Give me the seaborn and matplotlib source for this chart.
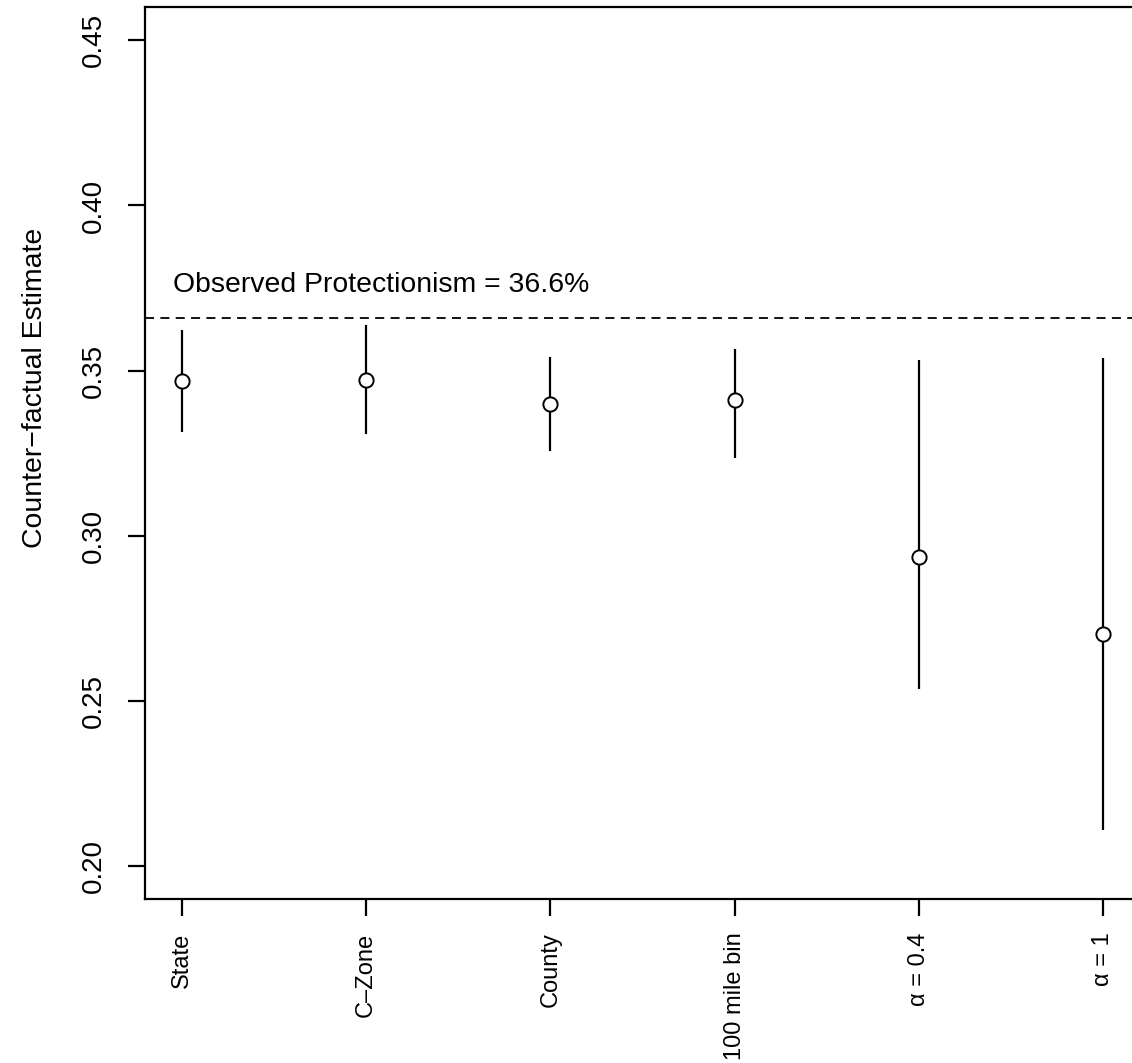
import matplotlib
matplotlib.use("Agg")
import matplotlib.pyplot as plt
import seaborn as sns
import pandas as pd

categories = ["State", "C\u2013Zone", "County", "100 mile bin", "\u03b1 = 0.4", "\u03b1 = 1"]
estimates = [0.3468, 0.3473, 0.3400, 0.3412, 0.2936, 0.2703]
lower = [0.3313, 0.3308, 0.3255, 0.3236, 0.2536, 0.2109]
upper = [0.3624, 0.3638, 0.3542, 0.3564, 0.3533, 0.3539]
observed = 0.366
y_ticks = [0.20, 0.25, 0.30, 0.35, 0.40, 0.45]
y_tick_labels = ["0.20", "0.25", "0.30", "0.35", "0.40", "0.45"]
annotation = "Observed Protectionism = 36.6%"
y_label = "Counter\u2212factual Estimate"

sns.set_theme(style="white")
plt.rcParams["font.family"] = ["Liberation Sans", "DejaVu Sans"]

W, H, DPI = 1132, 1063, 100
fig = plt.figure(figsize=(W / DPI, H / DPI), dpi=DPI)
left, right, top, bottom = 145, 1140, 7.3, 899
ax = fig.add_axes([left / W, 1 - bottom / H, (right - left) / W, (bottom - top) / H])

pos = list(range(len(categories)))
df = pd.DataFrame({"pos": pos, "est": estimates, "lo": lower, "hi": upper, "cat": categories})

lw = 1.6
ax.vlines(df["pos"], df["lo"], df["hi"], color="black", linewidth=lw, zorder=2)
sns.scatterplot(data=df, x="pos", y="est", ax=ax, marker="o", s=105,
                facecolor="white", edgecolor="black", linewidth=1.4, zorder=3)
ax.axhline(observed, color="black", linewidth=1.3, linestyle=(0, (5, 3.5)), zorder=1)
ax.text(-0.048, 0.376, annotation, ha="left", va="center", fontsize=20.4, color="black")

ax.set_xlim(-0.2, len(categories) - 1 + 0.2)
ax.set_ylim(0.19, 0.46)
ax.set_xticks(pos)
ax.set_xticklabels(categories, rotation=90, fontsize=17.0, va="top", ha="center")
ax.set_yticks(y_ticks)
ax.set_yticklabels(y_tick_labels, rotation=90, fontsize=20.0, va="center")
ax.set_xlabel("")
ax.set_ylabel(y_label, fontsize=20.4, color="black", labelpad=24)
ax.yaxis.set_label_coords(-0.097, 0.573)

ax.tick_params(axis="both", direction="out", length=12.2, width=lw, color="black",
               labelcolor="black", bottom=True, left=True)
ax.tick_params(axis="x", pad=12)
ax.tick_params(axis="y", pad=15)
for s in ax.spines.values():
    s.set_visible(True)
    s.set_color("black")
    s.set_linewidth(lw)
ax.grid(False)
ax.set_facecolor("white")
fig.patch.set_facecolor("white")

fig.savefig("out.png", dpi=DPI, facecolor="white")
